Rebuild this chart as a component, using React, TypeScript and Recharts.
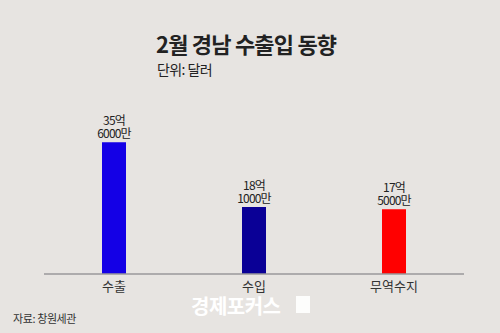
import React from "react";
import { BarChart, Bar, XAxis, YAxis, Cell, LabelList } from "recharts";

// 단위: 억 달러
const categories = ["수출", "수입", "무역수지"];
const values = [35.6, 18.1, 17.5];
const barColors = ["#1400e6", "#0a0096", "#ff0000"];

const FONT = '"Noto Sans CJK KR", "Noto Sans", sans-serif';

const data = categories.map((name, i) => ({ name, value: values[i] }));

const formatEok = (v: number) => {
  const eok = Math.floor(v);
  const man = Math.round((v - eok) * 10000);
  return [`${eok}억`, `${man}만`];
};

const ValueLabel = (props: any) => {
  const { x, y, width, value } = props;
  const [top, bottom] = formatEok(Number(value));
  const cx = Number(x) + Number(width) / 2;
  const common = {
    x: cx,
    textAnchor: "middle" as const,
    fontFamily: FONT,
    fontSize: 12,
    fill: "#222",
    letterSpacing: -0.8,
  };
  return (
    <g>
      <text {...common} y={Number(y) - 17}>{top}</text>
      <text {...common} y={Number(y) - 4}>{bottom}</text>
    </g>
  );
};

const App: React.FC = () => {
  return (
    <div
      style={{
        position: "absolute",
        left: 0,
        top: 0,
        width: 500,
        height: 333,
        background: "#e7e4e1",
        fontFamily: FONT,
        overflow: "hidden",
      }}
    >
      <div
        style={{
          position: "absolute",
          left: 156,
          top: 28,
          fontSize: 22,
          fontWeight: 700,
          color: "#222",
          letterSpacing: -0.8,
          lineHeight: "30px",
        }}
      >
        2월 경남 수출입 동향
      </div>
      <div
        style={{
          position: "absolute",
          left: 157,
          top: 59,
          fontSize: 14,
          color: "#222",
          letterSpacing: -0.6,
          lineHeight: "20px",
        }}
      >
        단위: 달러
      </div>

      <BarChart
        width={500}
        height={333}
        data={data}
        margin={{ top: 126, right: 36, left: 44, bottom: 29 }}
      >
        <XAxis
          dataKey="name"
          axisLine={{ stroke: "#9a989a", strokeWidth: 1.5 }}
          tickLine={false}
          tick={{ fill: "#333", fontSize: 13, fontFamily: FONT }}
          tickMargin={2}
        />
        <YAxis hide domain={[0, 40]} />
        <Bar dataKey="value" barSize={24} isAnimationActive={false}>
          {data.map((d, i) => (
            <Cell key={d.name} fill={barColors[i]} />
          ))}
          <LabelList dataKey="value" content={<ValueLabel />} />
        </Bar>
      </BarChart>

      <div
        style={{
          position: "absolute",
          left: 13,
          top: 310,
          fontSize: 11,
          color: "#333",
          letterSpacing: -0.4,
          lineHeight: "16px",
        }}
      >
        자료: 창원세관
      </div>
      <div
        style={{
          position: "absolute",
          left: 191,
          top: 293,
          fontSize: 20,
          fontWeight: 700,
          color: "#ffffff",
          letterSpacing: -0.5,
          lineHeight: "26px",
        }}
      >
        경제포커스
      </div>
      <div
        style={{
          position: "absolute",
          left: 296,
          top: 296,
          width: 14,
          height: 17,
          background: "#ffffff",
          opacity: 0.9,
        }}
      />
    </div>
  );
};

export default App;
